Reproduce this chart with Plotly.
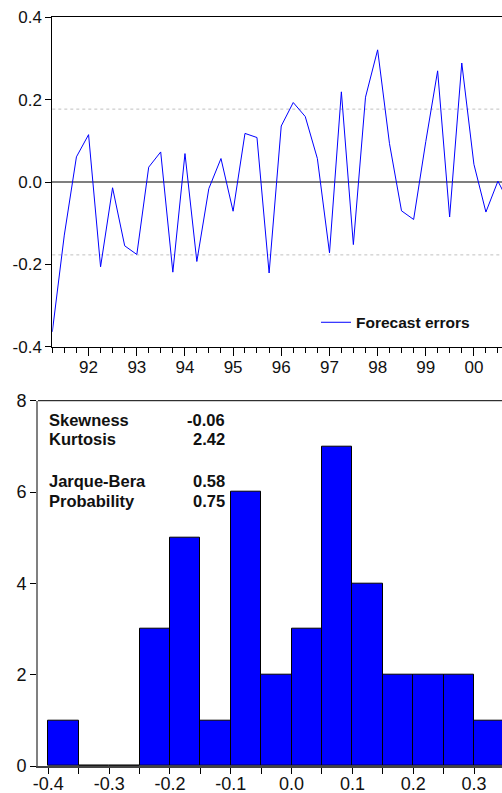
import pandas as pd
import plotly.graph_objects as go

# ---------------- data ----------------
errors = [-0.364, -0.129, 0.061, 0.115, -0.206, -0.014, -0.155, -0.176, 0.036, 0.073,
          -0.219, 0.069, -0.193, -0.016, 0.057, -0.071, 0.118, 0.108, -0.221, 0.136,
          0.193, 0.159, 0.057, -0.172, 0.219, -0.152, 0.206, 0.321, 0.093, -0.070,
          -0.091, 0.098, 0.270, -0.085, 0.289, 0.043, -0.073, 0.002, -0.055]
start_quarter = "1991-04-01"
dates = pd.date_range(start_quarter, periods=len(errors), freq="QS")

year_ticks = ["1992-01-01", "1993-01-01", "1994-01-01", "1995-01-01", "1996-01-01",
              "1997-01-01", "1998-01-01", "1999-01-01", "2000-01-01"]
year_labels = ["92", "93", "94", "95", "96", "97", "98", "99", "00"]
ts_yticks = [-0.4, -0.2, 0.0, 0.2, 0.4]
ts_ylabels = ["-0.4", "-0.2", "0.0", "0.2", "0.4"]
band = 0.177  # dotted reference lines

bin_left = [-0.40, -0.35, -0.30, -0.25, -0.20, -0.15, -0.10, -0.05,
            0.00, 0.05, 0.10, 0.15, 0.20, 0.25, 0.30]
counts = [1, 0, 0, 3, 5, 1, 6, 2, 3, 7, 4, 2, 2, 2, 1]
bin_width = 0.05
h_xticks = [-0.4, -0.3, -0.2, -0.1, 0.0, 0.1, 0.2, 0.3]
h_xlabels = ["-0.4", "-0.3", "-0.2", "-0.1", "0.0", "0.1", "0.2", "0.3"]
h_yticks = [0, 2, 4, 6, 8]
h_ylabels = ["0", "2", "4", "6", "8"]

stat_names = ["Skewness", "Kurtosis", "Jarque-Bera", "Probability"]
stat_values = ["-0.06", "2.42", "0.58", "0.75"]

# ---------------- figure ----------------
W, H = 502, 793
FONT = "Liberation Sans, Arial, sans-serif"
BLUE = "#0000FF"

fig = go.Figure()

fig.add_trace(go.Scatter(
    x=dates, y=errors, mode="lines", name="Forecast errors",
    line=dict(color=BLUE, width=1), xaxis="x", yaxis="y", showlegend=True,
))

fig.add_trace(go.Bar(
    x=bin_left, y=counts, width=bin_width, offset=0,
    marker=dict(color=BLUE, line=dict(color="black", width=1)),
    xaxis="x2", yaxis="y2", showlegend=False,
))

def px_x(px):
    return px / W

def px_y(py):
    return 1 - py / H

top_font = dict(family=FONT, size=17, color="#111111")
hist_font = dict(family=FONT, size=18, color="#111111")

fig.update_layout(
    width=W, height=H,
    margin=dict(l=0, r=0, t=0, b=0, autoexpand=False),
    paper_bgcolor="white", plot_bgcolor="white",
    font=dict(family=FONT, size=16, color="#111111"),
    bargap=0,
    xaxis=dict(
        domain=[px_x(52.3), 1.0], anchor="y", automargin=False,
        type="date", range=[start_quarter, "2000-08-01"],
        tickmode="array", tickvals=year_ticks, ticktext=year_labels,
        ticks="outside", ticklen=8, tickcolor="black", tickwidth=1,
        ticklabelstandoff=-3,
        minor=dict(dtick="M3", tick0=start_quarter, ticks="outside", ticklen=5,
                   tickcolor="black", tickwidth=1, showgrid=False),
        showline=True, linecolor="black", linewidth=1, mirror=True,
        showgrid=False, zeroline=False, tickfont=top_font,
    ),
    yaxis=dict(
        domain=[px_y(346.7), px_y(17.3)], anchor="x", automargin=False,
        range=[-0.4, 0.4], tickmode="array", tickvals=ts_yticks, ticktext=ts_ylabels,
        ticks="outside", ticklen=6, tickcolor="black", tickwidth=1,
        showline=True, linecolor="black", linewidth=1,
        showgrid=False, zeroline=True, zerolinecolor="#7f7f7f", zerolinewidth=2,
        tickfont=top_font,
    ),
    xaxis2=dict(
        domain=[px_x(38), 1.0], anchor="y2", automargin=False,
        range=[-0.417, 0.346],
        tickmode="array", tickvals=h_xticks, ticktext=h_xlabels,
        ticks="outside", ticklen=6, tickcolor="black", tickwidth=1,
        ticklabelstandoff=-6,
        minor=dict(dtick=0.05, tick0=-0.4, ticks="outside", ticklen=6,
                   tickcolor="black", tickwidth=1, showgrid=False),
        showline=True, linecolor="#444444", linewidth=2, mirror=False,
        showgrid=False, zeroline=False, tickfont=hist_font,
    ),
    yaxis2=dict(
        domain=[px_y(766), px_y(400.7)], anchor="x2", automargin=False,
        range=[0, 8], tickmode="array", tickvals=h_yticks, ticktext=h_ylabels,
        ticks="outside", ticklen=6, tickcolor="black", tickwidth=1,
        showline=True, linecolor="#808080", linewidth=2,
        showgrid=False, zeroline=False, tickfont=hist_font,
    ),
    legend=dict(
        x=px_x(316), y=px_y(322.7), xanchor="left", yanchor="middle",
        bgcolor="rgba(0,0,0,0)", borderwidth=0,
        font=dict(family=FONT, size=15.5, color="#111111", weight="bold"),
        itemwidth=30,
    ),
)

# dotted reference lines and top border of histogram
for lvl in (band, -band):
    fig.add_shape(type="line", xref="x domain", yref="y", x0=0, x1=1, y0=lvl, y1=lvl,
                  line=dict(color="#c0c0c0", width=1, dash="dot"), layer="below")
fig.add_shape(type="line", xref="x2 domain", yref="y2 domain", x0=0, x1=1, y0=1, y1=1,
              line=dict(color="black", width=1))

# statistics text
row_y = [419.7, 439.3, 480.7, 501.0]
for name, val, yy in zip(stat_names, stat_values, row_y):
    fig.add_annotation(text="<b>%s</b>" % name, xref="paper", yref="paper",
                       x=px_x(47.3), y=px_y(yy), xanchor="left", yanchor="middle",
                       showarrow=False, font=dict(family=FONT, size=16.5, color="#111111"))
    fig.add_annotation(text="<b>%s</b>" % val, xref="paper", yref="paper",
                       x=px_x(226.7), y=px_y(yy), xanchor="right", yanchor="middle",
                       showarrow=False, font=dict(family=FONT, size=16.5, color="#111111"))

fig.write_html("out.html")
